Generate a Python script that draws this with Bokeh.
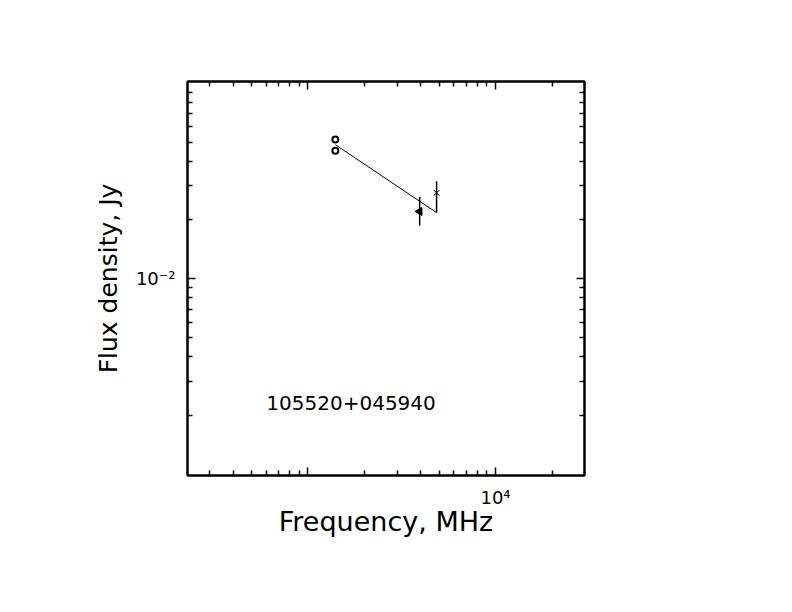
import math
from bokeh.plotting import figure
from bokeh.models import LogAxis, FixedTicker, Range1d
from bokeh.embed import file_html
from bokeh.resources import INLINE
from bokeh.core.properties import value

# ---------------- data ----------------
circ_freq = [1400, 1400]          # MHz
circ_flux = [0.0516, 0.0452]      # Jy
tri_freq = [3940]
tri_flux = [0.0221]
tri_lo = [0.0187]
tri_hi = [0.0262]
x_freq = [4850]
x_flux = [0.0275]
x_lo = [0.0218]
x_hi = [0.0315]
fit_freq = [1400, 4850]
fit_flux = [0.0485, 0.0218]

x_lim = (228, 29800)
y_lim = (0.000986, 0.1021)

x_major = [1000, 10000]
x_minor = [300, 400, 500, 600, 700, 800, 900,
           2000, 3000, 4000, 5000, 6000, 7000, 8000, 9000, 20000]
x_tick_labels = {1000: "", 10000: "10\u2074"}
y_major = [0.01]
y_minor = [0.002, 0.003, 0.004, 0.005, 0.006, 0.007, 0.008, 0.009,
           0.02, 0.03, 0.04, 0.05, 0.06, 0.07, 0.08, 0.09]
y_tick_labels = {0.01: "10\u207b\u00b2"}

source_name = "105520+045940"
name_pos = (600, 0.00232)

FONT = "DejaVu Sans"

p = figure(x_axis_type="log", y_axis_type="log",
           x_range=Range1d(*x_lim), y_range=Range1d(*y_lim),
           frame_width=397, frame_height=394,
           min_border_left=187, min_border_top=81,
           min_border_right=196, min_border_bottom=125,
           output_backend="svg", toolbar_location=None,
           background_fill_color="white", border_fill_color="white")
p.xgrid.grid_line_color = None
p.ygrid.grid_line_color = None
p.outline_line_color = "black"
p.outline_line_width = 2


def style_axis(ax, ticks, minor, labels):
    ax.ticker = FixedTicker(ticks=ticks, minor_ticks=minor)
    ax.major_label_overrides = labels
    ax.axis_line_color = "black"
    ax.axis_line_width = 2
    ax.major_tick_in = 8
    ax.major_tick_out = 0
    ax.minor_tick_in = 5
    ax.minor_tick_out = 0
    ax.major_tick_line_width = 1.5
    ax.minor_tick_line_width = 1.5
    ax.major_tick_line_color = "black"
    ax.minor_tick_line_color = "black"
    ax.major_label_text_font = FONT
    ax.major_label_text_font_size = "18px"
    ax.major_label_text_color = "black"
    ax.axis_label_text_font = FONT
    ax.axis_label_text_font_style = "normal"
    ax.axis_label_text_color = "black"


xa = p.xaxis[0]
ya = p.yaxis[0]
style_axis(xa, x_major, x_minor, x_tick_labels)
style_axis(ya, y_major, y_minor, y_tick_labels)
xa.axis_label = "Frequency, MHz"
xa.axis_label_text_font_size = "27px"
xa.major_label_standoff = 11
xa.axis_label_standoff = -5
ya.axis_label = "Flux density, Jy"
ya.axis_label_text_font_size = "25px"
ya.major_label_standoff = 12
ya.axis_label_standoff = 10

top = LogAxis()
style_axis(top, x_major, x_minor, {t: "" for t in x_major})
p.add_layout(top, "above")
right = LogAxis()
style_axis(right, y_major, y_minor, {t: "" for t in y_major})
p.add_layout(right, "right")

# fit line
p.line(fit_freq, fit_flux, line_color="black", line_width=1)
# error bars
p.segment(x0=tri_freq, y0=tri_lo, x1=tri_freq, y1=tri_hi,
          line_color="black", line_width=1.5)
p.segment(x0=x_freq, y0=x_lo, x1=x_freq, y1=x_hi,
          line_color="black", line_width=1.5)
# markers
p.scatter(circ_freq, circ_flux, marker="circle", size=6,
          fill_color=None, line_color="black", line_width=2)
p.scatter(tri_freq, tri_flux, marker="triangle", size=8, angle=math.pi / 2,
          fill_color="black", line_color="black")
p.scatter(x_freq, x_flux, marker="x", size=8, line_color="black", line_width=1)

p.text(x=[name_pos[0]], y=[name_pos[1]], text=[source_name],
       text_font=value(FONT), text_font_size="20px",
       text_align="left", text_baseline="middle", text_color="black")

open("out.html", "w").write(file_html(p, INLINE))
